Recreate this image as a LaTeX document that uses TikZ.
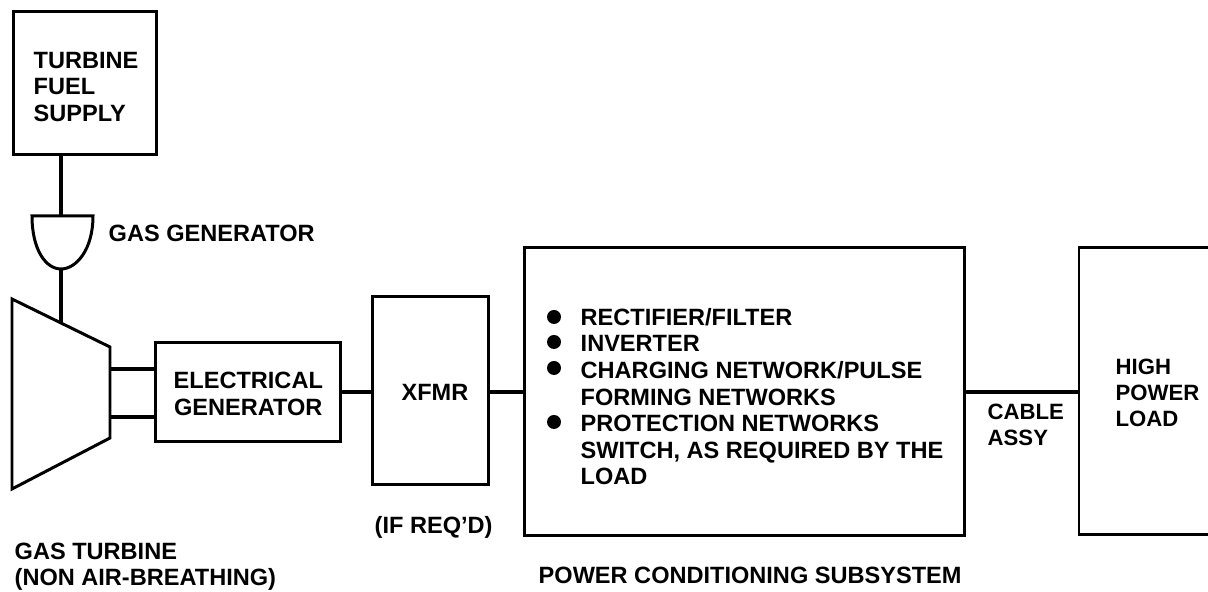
\documentclass[tikz,border=0pt]{standalone}
\usepackage{fontspec}
\setmainfont{Liberation Sans}
\usetikzlibrary{calc,positioning}
\begin{document}
\begin{tikzpicture}
    [x=0.01cm,y=-0.01cm,
    block/.style={
      rectangle,
      draw=black,
      line width=0.85pt,
      align=center,
      inner sep=0pt
    },
    line/.style={
      draw,
      line width=0.85pt
    },
    link/.style={
      draw,
      line width=1.3pt
    },
    label/.style={
      font=\bfseries\fontsize{6.7}{7.5}\selectfont,
      align=left,
      inner sep=0pt
    },
    small/.style={
      font=\bfseries\fontsize{6.3}{7.5}\selectfont
    }
  ]
    \useasboundingbox (0,0) rectangle (1208,592);
    % boxes
    \draw (85,83) node[block,minimum width=1.42cm,minimum height=1.42cm] (FUEL) {};
    \draw (248,392) node[block,minimum width=1.84cm,minimum height=0.98cm] (GEN) {};
    \draw (430.5,390.5) node[block,minimum width=1.15cm,minimum height=1.87cm] (XFMR) {};
    \draw (744.5,391.5) node[block,minimum width=4.39cm,minimum height=2.87cm] (PCS) {};
    \coordinate (LOADNW) at (1079,248);
    \coordinate (LOADSW) at (1079,535);
    \coordinate (LOADW) at (1079,392);
    \draw[line] (1208,248) -- (LOADNW) -- (LOADSW) -- (1208,535);
    % turbine
    \draw[line] (12,299) -- (110,347) -- (110,438) -- (12,489) -- cycle;
    \coordinate (TURBT) at (61,323);
    \coordinate (TURBU) at (110,369);
    \coordinate (TURBL) at (110,417);
    % gas generator
    \draw[line] (32,216) -- (93,216) .. controls (93,250) and (76,269) .. (61,269)
       .. controls (46,269) and (32,250) .. (32,216) -- cycle;
    \coordinate (GGT) at (61,216);
    \coordinate (GGB) at (61,269);
    % connectors
    \draw[link] (FUEL.south -| GGT) -- (GGT);
    \draw[link] (GGB) -- (TURBT);
    \draw[link] (TURBU) -- (TURBU -| GEN.west);
    \draw[link] (TURBL) -- (TURBL -| GEN.west);
    \draw[link] (GEN.east) -- (GEN.east -| XFMR.west);
    \draw[link] (GEN.east -| XFMR.east) -- (GEN.east -| PCS.west);
    \draw[link] (LOADW -| PCS.east) -- (LOADW);
    % labels
    \draw (33,87) node[label,anchor=west] (L1) {TURBINE\\FUEL\\SUPPLY};
    \draw (108,233) node[label,anchor=west] (L2) {GAS GENERATOR};
    \draw (173,394) node[label,anchor=west,align=center] (L3) {ELECTRICAL\\GENERATOR};
    \draw (435,392) node[label] (L4) {XFMR};
    \draw (374,527) node[label,anchor=west] (L5) {(IF REQ'D)};
    \draw (14,567) node[label,anchor=west] (L6) {GAS TURBINE\\(NON AIR-BREATHING)};
    \draw (538,575) node[label,anchor=west] (L7) {POWER CONDITIONING SUBSYSTEM};
    \draw (987,425) node[label,small,anchor=west] (L8) {CABLE\\ASSY};
    \draw (1115,393) node[label,small,anchor=west] (L9) {HIGH\\POWER\\LOAD};
    \draw (580,317) node[label,anchor=west] (L10) {RECTIFIER/FILTER};
    \draw (580,343) node[label,anchor=west] (L11) {INVERTER};
    \draw (580,383.5) node[label,anchor=west] (L12) {CHARGING NETWORK/PULSE\\FORMING NETWORKS};
    \draw (580,450) node[label,anchor=west] (L13) {PROTECTION NETWORKS\\SWITCH, AS REQUIRED BY THE\\LOAD};
    % bullets
    \foreach \y/\n in {317/a,342/b,368/c,422/d}
      \fill (554,\y) circle [radius=7] coordinate (B\n);
\end{tikzpicture}
\end{document}
